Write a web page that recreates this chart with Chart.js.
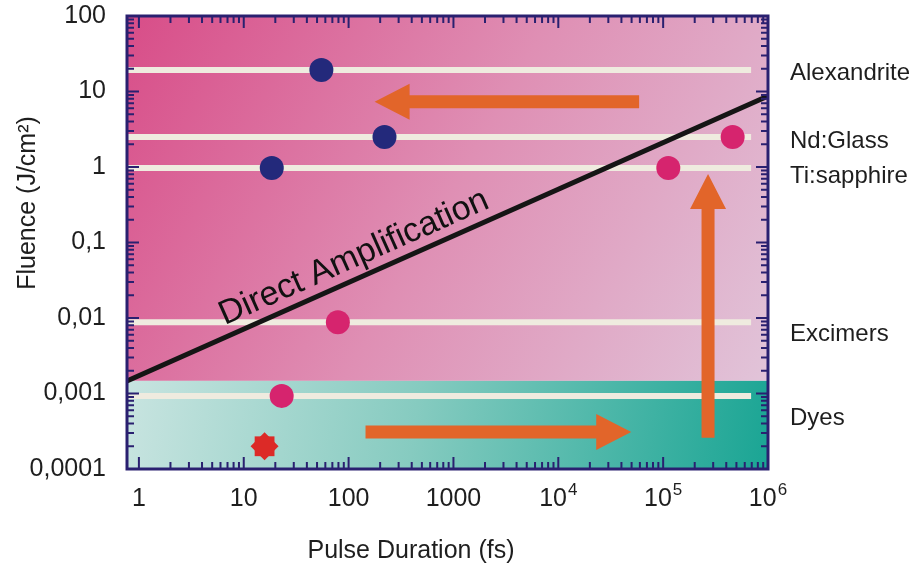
<!DOCTYPE html>
<html>
<head>
<meta charset="utf-8">
<script src="https://cdn.jsdelivr.net/npm/chart.js@4/dist/chart.umd.min.js"></script>
<style>
  html, body { margin: 0; padding: 0; background: #fff; }
  canvas { display: block; }
</style>
</head>
<body>
<canvas id="chart" width="923" height="569"></canvas>
<script>
// axis ticks (x labels split into base + exponent so the power can be raised)
const xTicks = [1, 10, 100, 1000, 1e4, 1e5, 1e6];
const xTickBase = ['1', '10', '100', '1000', '10', '10', '10'];
const xTickExp = ['', '', '', '', '4', '5', '6'];
const yTicks = [0.0001, 0.001, 0.01, 0.1, 1, 10, 100];
const yTickLabels = ['0,0001', '0,001', '0,01', '0,1', '1', '10', '100'];

// laser materials (saturation fluence lines) and where their labels sit
const materials = ['Alexandrite', 'Nd:Glass', 'Ti:sapphire', 'Excimers', 'Dyes'];
const materialFluence = [19.3, 2.5, 0.97, 0.0088, 0.00093];
const materialLabelY = [18.4, 2.35, 0.81, 0.0065, 0.0005];
const materialSpan = [0.77, 6.9e5];

// systems
const bluePulse = [55, 220, 18.5];
const blueFluence = [19.3, 2.5, 0.97];
const pinkPulse = [79, 23, 1.12e5, 4.6e5];
const pinkFluence = [0.0088, 0.00093, 0.97, 2.5];
const starPulse = [15.8];
const starFluence = [0.0002];

// direct amplification limit
const ampPulse = [0.77, 1e6];
const ampFluence = [0.00147, 8.7];
const ampLabelPulse = 135;

// top of the dye region
const dyeLimit = 0.00147;

// arrows: tail x, tail y, tip x, tip y
const arrows = [
  [5.9e4, 7.3, 177, 7.3],
  [145, 0.00031, 4.96e4, 0.00031],
  [2.68e5, 0.00026, 2.68e5, 0.81]
];

const FONT = '"Liberation Sans", Arial, Helvetica, sans-serif';
const FRAME = '#2a2070';
const TEXT = '#1e1e1e';

function pts(xs, ys) {
  return xs.map((v, i) => ({ x: v, y: ys[i] }));
}

const materialSets = materials.map((m, i) => ({
  label: m,
  data: pts(materialSpan, [materialFluence[i], materialFluence[i]]),
  showLine: true,
  borderColor: '#efebdf',
  borderWidth: 6,
  pointRadius: 0,
  order: 5
}));

function drawArrow(ctx, x1, y1, x2, y2) {
  const ang = Math.atan2(y2 - y1, x2 - x1);
  const len = Math.hypot(x2 - x1, y2 - y1);
  const head = 35, hw = 18, sw = 6.5;
  ctx.save();
  ctx.translate(x1, y1);
  ctx.rotate(ang);
  ctx.fillStyle = '#e2652a';
  ctx.beginPath();
  ctx.moveTo(0, -sw);
  ctx.lineTo(len - head, -sw);
  ctx.lineTo(len - head, -hw);
  ctx.lineTo(len, 0);
  ctx.lineTo(len - head, hw);
  ctx.lineTo(len - head, sw);
  ctx.lineTo(0, sw);
  ctx.closePath();
  ctx.fill();
  ctx.restore();
}

const decor = {
  id: 'decor',
  beforeDatasetsDraw(chart) {
    const { ctx, chartArea: a, scales: { y } } = chart;
    const yb = y.getPixelForValue(dyeLimit);
    ctx.save();
    let g = ctx.createLinearGradient(a.left, a.top, a.right, yb);
    g.addColorStop(0, '#d84d88');
    g.addColorStop(0.5, '#df8fb4');
    g.addColorStop(1, '#e1c4d9');
    ctx.fillStyle = g;
    ctx.fillRect(a.left, a.top, a.right - a.left, yb - a.top);
    g = ctx.createLinearGradient(a.left, yb, a.right, a.bottom);
    g.addColorStop(0, '#c8e4e0');
    g.addColorStop(0.45, '#86cbc0');
    g.addColorStop(1, '#1aa594');
    ctx.fillStyle = g;
    ctx.fillRect(a.left, yb, a.right - a.left, a.bottom - yb);
    ctx.restore();
  },
  afterDatasetsDraw(chart) {
    const { ctx, chartArea: a, scales: { x, y } } = chart;
    ctx.save();
    arrows.forEach(r => drawArrow(ctx,
      x.getPixelForValue(r[0]), y.getPixelForValue(r[1]),
      x.getPixelForValue(r[2]), y.getPixelForValue(r[3])));

    // label along the amplification line
    const p1 = { x: x.getPixelForValue(ampPulse[0]), y: y.getPixelForValue(ampFluence[0]) };
    const p2 = { x: x.getPixelForValue(ampPulse[1]), y: y.getPixelForValue(ampFluence[1]) };
    const ang = Math.atan2(p2.y - p1.y, p2.x - p1.x);
    const lx = x.getPixelForValue(ampLabelPulse);
    const ly = p1.y + (lx - p1.x) * (p2.y - p1.y) / (p2.x - p1.x);
    ctx.translate(lx, ly);
    ctx.rotate(ang);
    ctx.fillStyle = '#111';
    ctx.font = '34px ' + FONT;
    ctx.textAlign = 'center';
    ctx.textBaseline = 'alphabetic';
    ctx.fillText('Direct Amplification', 0, -11);
    ctx.restore();

    // frame with inward ticks
    ctx.save();
    ctx.strokeStyle = FRAME;
    ctx.lineWidth = 2;
    ctx.beginPath();
    for (let d = -4; d < 2; d++) {
      for (let k = 1; k < 10; k++) {
        const py = y.getPixelForValue(k * Math.pow(10, d));
        const L = k === 1 ? 12 : 7;
        ctx.moveTo(a.left, py); ctx.lineTo(a.left + L, py);
        ctx.moveTo(a.right, py); ctx.lineTo(a.right - L, py);
      }
    }
    for (let d = 0; d < 6; d++) {
      for (let k = 1; k < 10; k++) {
        const px = x.getPixelForValue(k * Math.pow(10, d));
        const L = k === 1 ? 12 : 7;
        ctx.moveTo(px, a.bottom); ctx.lineTo(px, a.bottom - L);
        ctx.moveTo(px, a.top); ctx.lineTo(px, a.top + L);
      }
    }
    ctx.stroke();
    ctx.lineWidth = 3;
    ctx.strokeRect(a.left, a.top, a.right - a.left, a.bottom - a.top);
    ctx.restore();
  },
  afterDraw(chart) {
    const { ctx, chartArea: a, scales: { x, y } } = chart;
    ctx.save();
    ctx.fillStyle = TEXT;
    ctx.textBaseline = 'alphabetic';

    // x tick labels with raised exponents
    xTicks.forEach((v, i) => {
      const px = x.getPixelForValue(v);
      ctx.font = '25px ' + FONT;
      const wb = ctx.measureText(xTickBase[i]).width;
      ctx.font = '17px ' + FONT;
      const we = xTickExp[i] ? ctx.measureText(xTickExp[i]).width + 1 : 0;
      const x0 = px - (wb + we) / 2;
      ctx.textAlign = 'left';
      ctx.font = '25px ' + FONT;
      ctx.fillText(xTickBase[i], x0, a.bottom + 37);
      if (xTickExp[i]) {
        ctx.font = '17px ' + FONT;
        ctx.fillText(xTickExp[i], x0 + wb + 1, a.bottom + 26);
      }
    });

    // material names right of the plot
    ctx.font = '24px ' + FONT;
    ctx.textAlign = 'left';
    materials.forEach((m, i) => {
      ctx.fillText(m, a.right + 22, y.getPixelForValue(materialLabelY[i]) + 8.6);
    });

    // axis titles
    ctx.font = '25px ' + FONT;
    ctx.textAlign = 'center';
    ctx.textBaseline = 'middle';
    ctx.fillText('Pulse Duration (fs)', 411, 551);
    ctx.translate(28, 203);
    ctx.rotate(-Math.PI / 2);
    ctx.fillText('Fluence (J/cm²)', 0, 0);
    ctx.restore();
  }
};

new Chart(document.getElementById('chart'), {
  type: 'scatter',
  data: {
    datasets: [
      {
        label: 'blue',
        data: pts(bluePulse, blueFluence),
        backgroundColor: '#23297b',
        borderWidth: 0,
        pointRadius: 12,
        order: 0
      },
      {
        label: 'pink',
        data: pts(pinkPulse, pinkFluence),
        backgroundColor: '#d6246e',
        borderWidth: 0,
        pointRadius: 12,
        order: 0
      },
      {
        label: 'star a',
        data: pts(starPulse, starFluence),
        backgroundColor: '#dc2a27',
        borderWidth: 0,
        pointStyle: 'rect',
        pointRadius: 14,
        order: 0
      },
      {
        label: 'star b',
        data: pts(starPulse, starFluence),
        backgroundColor: '#dc2a27',
        borderWidth: 0,
        pointStyle: 'rectRot',
        pointRadius: 14,
        order: 0
      },
      {
        label: 'Direct Amplification',
        data: pts(ampPulse, ampFluence),
        showLine: true,
        borderColor: '#151515',
        borderWidth: 5,
        pointRadius: 0,
        order: 2
      },
      ...materialSets
    ]
  },
  options: {
    responsive: false,
    animation: false,
    events: [],
    layout: { padding: { top: 16, right: 155, left: 0, bottom: 0 } },
    plugins: { legend: { display: false }, tooltip: { enabled: false } },
    scales: {
      x: {
        type: 'logarithmic',
        min: 0.77,
        max: 1e6,
        grid: { display: false, drawTicks: false },
        border: { display: false },
        afterBuildTicks: s => { s.ticks = xTicks.map(v => ({ value: v })); },
        afterFit: s => { s.height = 100; s.paddingLeft = 0; s.paddingRight = 0; },
        ticks: { display: false }
      },
      y: {
        type: 'logarithmic',
        min: 0.0001,
        max: 100,
        grid: { display: false, drawTicks: false },
        border: { display: false },
        afterBuildTicks: s => { s.ticks = yTicks.map(v => ({ value: v })); },
        afterFit: s => { s.width = 127; s.paddingTop = 0; s.paddingBottom = 0; },
        ticks: {
          padding: 21,
          color: TEXT,
          font: { size: 25, family: FONT },
          autoSkip: false,
          callback: v => yTickLabels[yTicks.indexOf(v)]
        }
      }
    }
  },
  plugins: [decor]
});
</script>
</body>
</html>
